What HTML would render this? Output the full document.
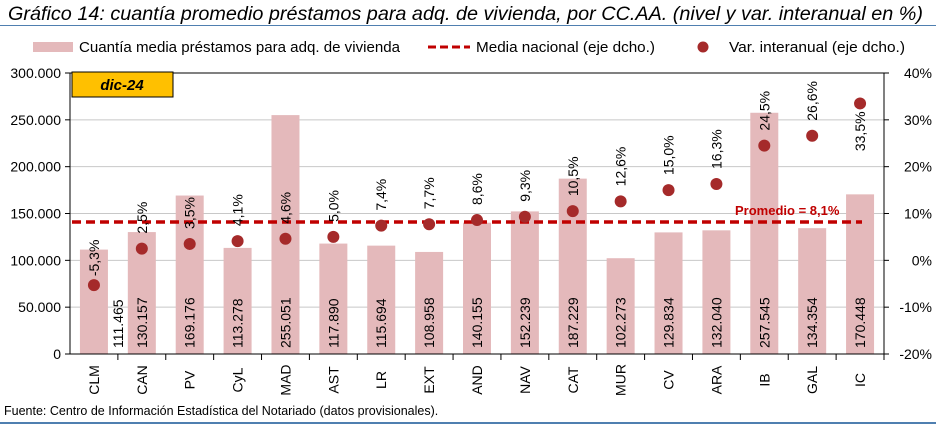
<!DOCTYPE html>
<html><head><meta charset="utf-8"><style>
body{margin:0;background:#fff;width:936px;height:425px;overflow:hidden}
svg{display:block;font-family:"Liberation Sans",sans-serif}
</style></head><body>
<svg id="s" width="936" height="425" xmlns="http://www.w3.org/2000/svg">
<text x="8" y="20" font-size="19.5" font-style="italic" fill="#000" textLength="915" lengthAdjust="spacingAndGlyphs">Gráfico 14: cuantía promedio préstamos para adq. de vivienda, por CC.AA. (nivel y var. interanual en %)</text>
<line x1="0" y1="25.5" x2="936" y2="25.5" stroke="#4f7fb0" stroke-width="1"/>
<rect x="33" y="42" width="40" height="10" fill="#e4b9bb"/>
<text x="79" y="52" font-size="14.5" textLength="321" lengthAdjust="spacingAndGlyphs">Cuantía media préstamos para adq. de vivienda</text>
<line x1="428" y1="47" x2="470" y2="47" stroke="#c00000" stroke-width="3" stroke-dasharray="8,4"/>
<text x="476" y="52" font-size="14.5" textLength="179" lengthAdjust="spacingAndGlyphs">Media nacional (eje dcho.)</text>
<circle cx="703" cy="47" r="5.5" fill="#a52a2a"/>
<text x="729" y="52" font-size="14.5" textLength="176" lengthAdjust="spacingAndGlyphs">Var. interanual (eje dcho.)</text>
<g id="g"></g>
<text x="4" y="415" font-size="12.5">Fuente: Centro de Información Estadística del Notariado (datos provisionales).</text>
<line x1="0" y1="423" x2="936" y2="423" stroke="#4f7fb0" stroke-width="2"/>
</svg>
<script>
const g=document.getElementById('g');let h='';
const cats=['CLM','CAN','PV','CyL','MAD','AST','LR','EXT','AND','NAV','CAT','MUR','CV','ARA','IB','GAL','IC'];
const vals=[111465,130157,169176,113278,255051,117890,115694,108958,140155,152239,187229,102273,129834,132040,257545,134354,170448];
const pct=[-5.3,2.5,3.5,4.1,4.6,5.0,7.4,7.7,8.6,9.3,10.5,12.6,15.0,16.3,24.5,26.6,33.5];
const L=70,R=884,T=73,B=354,W=(R-L)/17;
const yv=v=>B-v/300000*(B-T), yp=p=>B-(p+20)/60*(B-T);
for(let k=1;k<6;k++){const y=B-k*(B-T)/6;h+=`<line x1="${L}" x2="${R}" y1="${y}" y2="${y}" stroke="#c8c8c8"/>`;}
for(let k=0;k<=6;k++){const y=B-k*(B-T)/6;
 h+=`<line x1="${L-5}" x2="${L}" y1="${y}" y2="${y}" stroke="#000"/><line x1="${R}" x2="${R+5}" y1="${y}" y2="${y}" stroke="#000"/>`;
 h+=`<text x="${L-9}" y="${y+5}" font-size="14" text-anchor="end">${k==0?'0':(k*50)+'.000'}</text>`;
 h+=`<text x="${R+48}" y="${y+5}" font-size="14" text-anchor="end">${k*10-20}%</text>`;}
h+=`<line x1="${L}" x2="${R}" y1="${T}" y2="${T}" stroke="#000"/>`;
cats.forEach((c,i)=>{const cx=L+W*(i+0.5);const y=yv(vals[i]);
 h+=`<rect x="${cx-14}" y="${y}" width="28" height="${B-y}" fill="#e4b9bb"/>`;});
h+=`<line x1="72" x2="862" y1="222" y2="222" stroke="#c00000" stroke-width="3.5" stroke-dasharray="9,5"/>`;
h+=`<text x="735" y="215" font-size="13" font-weight="bold" fill="#c00000">Promedio = 8,1%</text>`;
cats.forEach((c,i)=>{const cx=L+W*(i+0.5);
 const lx=i==0?cx+24:cx;
 h+=`<text transform="translate(${lx+5},348) rotate(-90)" font-size="14">${vals[i].toLocaleString('de-DE')}</text>`;
 const py=yp(pct[i]);
 h+=`<circle cx="${cx}" cy="${py}" r="6" fill="#a52a2a"/>`;
 const s=pct[i].toFixed(1).replace('.',',')+'%';
 if(i==16) h+=`<text transform="translate(${cx+5},${py+8}) rotate(-90)" font-size="14" text-anchor="end">${s}</text>`;
 else {const by=i==0?py-9:py-15;h+=`<text transform="translate(${cx+5},${by}) rotate(-90)" font-size="14">${s}</text>`;}
 h+=`<text transform="translate(${cx+5},380) rotate(-90)" font-size="14" text-anchor="middle">${c}</text>`;
 h+=`<line x1="${L+W*(i+1)}" x2="${L+W*(i+1)}" y1="${B}" y2="${B+6}" stroke="#000"/>`;});
h+=`<line x1="${L}" x2="${L}" y1="${T}" y2="${B}" stroke="#000"/><line x1="${R}" x2="${R}" y1="${T}" y2="${B}" stroke="#000"/>`;
h+=`<line x1="${L}" x2="${R}" y1="${B}" y2="${B}" stroke="#000"/>`;
h+=`<rect x="72" y="72" width="101" height="25" fill="#ffc000" stroke="#000"/><text x="122" y="90" font-size="15" font-weight="bold" font-style="italic" text-anchor="middle">dic-24</text>`;
g.innerHTML=h;
</script>
</body></html>
